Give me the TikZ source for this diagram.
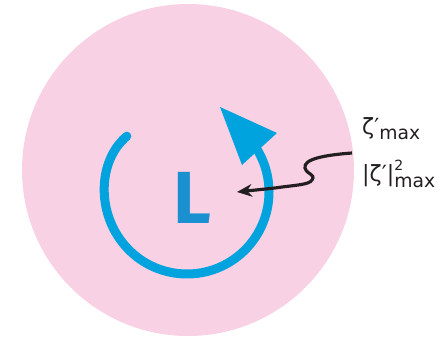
\documentclass[tikz,border=0pt]{standalone}
\usepackage{fontspec}
\setmainfont{Fira Sans}
\newfontfamily\labelfont{DejaVu Sans}
\definecolor{spotpink}{RGB}{249,209,228}
\definecolor{spinblue}{RGB}{0,163,222}
\definecolor{letterblue}{RGB}{27,144,208}
\definecolor{inkblack}{RGB}{35,31,32}
\usetikzlibrary{arrows.meta}

\begin{document}
\begin{tikzpicture}[
  x=0.03cm,y=0.03cm,
  spinarc/.style={line width=0.27cm,spinblue,{Round Cap[]}-},
  pointer/.style={-{Stealth[length=0.45cm,width=0.38cm]},line width=0.095cm,inkblack},
  maxlabel/.style={anchor=base west,inner sep=0pt,text=inkblack,font=\labelfont\fontsize{19}{23}\selectfont},
]
  \useasboundingbox (0,0) rectangle (441,337);

  % Pink disc
  \fill[spotpink] (188,167) circle[radius=166];

  % Rotation arc with big triangular head
  \draw[spinarc] ([shift={(134:82)}]187,145) arc[start angle=134,end angle=392,radius=82];
  \fill[spinblue] (220,230) -- (277,204) -- (242,172) -- cycle;

  % Centre letter
  \node[text=letterblue,font=\fontsize{63}{66}\selectfont\bfseries] (L) at (192.5,139.5) {L};

  % Labels on right
  \node[maxlabel] (zmax) at (362,202) {ζ′\raisebox{-4pt}{\fontsize{16}{19}\selectfont max}};
  \node[maxlabel] (zsq) at (362,155) {|ζ′|\rlap{\raisebox{10pt}{\fontsize{12}{14}\selectfont 2}}\raisebox{-5pt}{\fontsize{16}{19}\selectfont max}};

  % Squiggly pointer
  \coordinate (tail) at (352,184);
  \coordinate (aim) at (237,145);
  \draw[pointer] (tail) .. controls (325,182) and (303,178) .. (305,169)
    .. controls (307,162) and (316,163) .. (312,157)
    .. controls (309,152) and (295,152) .. (275,149) -- (aim);
\end{tikzpicture}
\end{document}
